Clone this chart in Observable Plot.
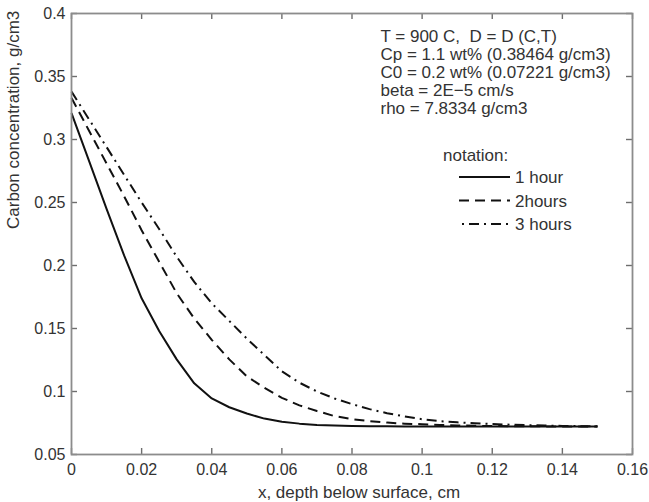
<!DOCTYPE html>
<html><head><meta charset="utf-8">
<script src="https://cdn.jsdelivr.net/npm/d3@7"></script>
<script src="https://cdn.jsdelivr.net/npm/@observablehq/plot@0.6"></script>
<style>body{margin:0;background:#fff}</style>
</head><body><div id="chart"></div>
<script>
// depth x (cm)
const xValues = [0,0.005,0.01,0.015,0.02,0.025,0.03,0.035,0.04,0.045,0.05,0.055,0.06,0.065,0.07,0.075,0.08,0.085,0.09,0.095,0.1,0.105,0.11,0.115,0.12,0.125,0.13,0.135,0.14,0.145,0.15];
// carbon concentration (g/cm3)
const hour1 = [0.321,0.283,0.245,0.208,0.174,0.148,0.1255,0.1065,0.0945,0.0875,0.0825,0.0785,0.0760,0.0745,0.0735,0.0730,0.0727,0.0725,0.0724,0.0723,0.0723,0.0722,0.0722,0.0722,0.0722,0.0722,0.0722,0.0722,0.0722,0.0722,0.0722];
const hour2 = [0.333,0.307,0.281,0.255,0.228,0.203,0.178,0.158,0.141,0.1255,0.112,0.103,0.095,0.089,0.0845,0.0805,0.078,0.0765,0.0753,0.0745,0.074,0.0735,0.0731,0.0728,0.0726,0.0725,0.0724,0.0723,0.0723,0.0722,0.0722];
const hour3 = [0.338,0.316,0.294,0.272,0.250,0.229,0.207,0.187,0.170,0.156,0.142,0.129,0.116,0.107,0.100,0.0945,0.0900,0.0860,0.0828,0.0802,0.0780,0.0765,0.0755,0.0748,0.0742,0.0737,0.0733,0.0730,0.0727,0.0725,0.0724];
const seriesNames = ["1 hour", "2hours", "3 hours"];
const xTicks = [0,0.02,0.04,0.06,0.08,0.1,0.12,0.14,0.16];
const yTicks = [0.05,0.1,0.15,0.2,0.25,0.3,0.35,0.4];
const annotationLines = ["T = 900 C,  D = D (C,T)", "Cp = 1.1 wt% (0.38464 g/cm3)", "C0 = 0.2 wt% (0.07221 g/cm3)", "beta = 2E\u22125 cm/s", "rho = 7.8334 g/cm3"];
const legendTitle = "notation:";
const xTitle = "x, depth below surface, cm";
const yTitle = "Carbon concentration, g/cm3";

const W = 649, H = 502, ML = 71, MR = 17, MT = 13, MB = 48;
const plotW = W - ML - MR, plotH = H - MT - MB, TICK = 6;
const seriesValues = [hour1, hour2, hour3];
const dashes = [null, "10,6", "10,5,2,5"];
const fmt = d3.format("~g");
const axisGray = "#6e6e6e";
const textColor = "#333";
const FONT = "'Liberation Sans', Arial, Helvetica, sans-serif";

const lineMarks = seriesValues.map((vals, k) =>
  Plot.line(xValues.map((x, i) => ({x, y: vals[i]})), {
    x: "x", y: "y", stroke: "#111", strokeWidth: 2,
    strokeDasharray: dashes[k] || undefined, strokeLinecap: "butt"
  })
);

function legendMark(index, scales, values, dims) {
  const g = d3.create("svg:g")
    .attr("font-family", FONT).attr("font-size", 17).attr("fill", textColor)
    .attr("text-anchor", "start");
  const x0 = dims.marginLeft;
  g.append("text").attr("x", x0 + 372).attr("y", 161).text(legendTitle);
  seriesNames.forEach((name, i) => {
    const y = 177 + 23.5 * i;
    const ln = g.append("line")
      .attr("x1", x0 + 388).attr("x2", x0 + 439)
      .attr("y1", y).attr("y2", y)
      .attr("stroke", "#111").attr("stroke-width", 2);
    if (dashes[i]) ln.attr("stroke-dasharray", dashes[i]).attr("stroke-dashoffset", i === 2 ? 12 : 0);
    g.append("text").attr("x", x0 + 444).attr("y", y + 6).text(name);
  });
  return g.node();
}

const chart = Plot.plot({
  width: W, height: H,
  marginLeft: ML, marginRight: MR, marginTop: MT, marginBottom: MB,
  style: {fontFamily: FONT, fontSize: "16px", color: textColor, background: "#fff"},
  x: {domain: [0, 0.16]},
  y: {domain: [0.05, 0.4]},
  marks: [
    ...lineMarks,
    // tick labels
    Plot.axisX(xTicks, {anchor: "bottom", tickSize: 0, tickPadding: 9, tickFormat: fmt, fill: textColor, label: null}),
    Plot.axisY(yTicks, {anchor: "left", tickSize: 0, tickPadding: 6, tickFormat: fmt, fill: textColor, label: null}),
    // inward ticks on all four sides
    Plot.tickX(xTicks, {x: d => d, stroke: axisGray, strokeWidth: 1.4, insetTop: plotH - TICK}),
    Plot.tickX(xTicks, {x: d => d, stroke: axisGray, strokeWidth: 1.4, insetBottom: plotH - TICK}),
    Plot.tickY(yTicks, {y: d => d, stroke: axisGray, strokeWidth: 1.4, insetRight: plotW - TICK}),
    Plot.tickY(yTicks, {y: d => d, stroke: axisGray, strokeWidth: 1.4, insetLeft: plotW - TICK}),
    Plot.frame({stroke: "#8c8c8c", strokeWidth: 1.8}),
    Plot.text([annotationLines.join("\n")], {frameAnchor: "top-left", dx: 309, dy: 16, lineAnchor: "top", lineHeight: 1.05, fontSize: 17, textAnchor: "start", fill: textColor, text: d => d}),
    Plot.text([xTitle], {frameAnchor: "bottom", dx: 7, dy: 43, lineAnchor: "bottom", fontSize: 17, fill: textColor, text: d => d}),
    Plot.text([yTitle], {frameAnchor: "left", dx: -58, dy: -5, rotate: -90, lineAnchor: "middle", fontSize: 17, fill: textColor, text: d => d}),
    legendMark
  ]
});
document.getElementById("chart").appendChild(chart);
</script>
</body></html>
